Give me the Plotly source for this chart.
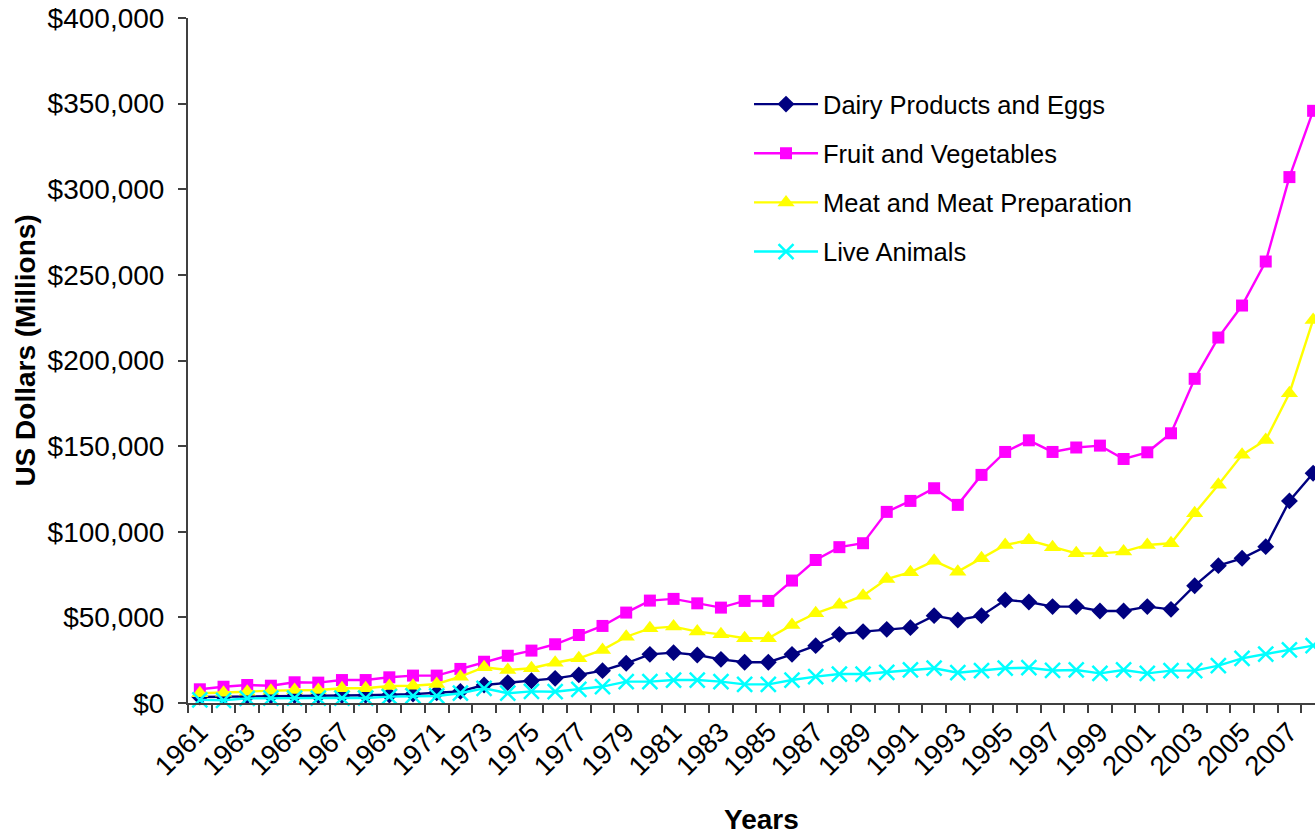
import plotly.graph_objects as go

years = [1961, 1962, 1963, 1964, 1965, 1966, 1967, 1968, 1969, 1970,
         1971, 1972, 1973, 1974, 1975, 1976, 1977, 1978, 1979, 1980,
         1981, 1982, 1983, 1984, 1985, 1986, 1987, 1988, 1989, 1990,
         1991, 1992, 1993, 1994, 1995, 1996, 1997, 1998, 1999, 2000,
         2001, 2002, 2003, 2004, 2005, 2006, 2007, 2008]

dairy = [3500, 3700, 4000, 4200, 4300, 4300, 4400, 4500, 4700, 5200,
         6000, 6800, 10500, 11900, 13000, 14400, 16400, 18900, 23200, 28400,
         29400, 28000, 25500, 23800, 23800, 28400, 33500, 40100, 41700, 43000,
         44000, 51000, 48500, 51000, 60200, 59000, 56300, 56300, 53700, 53700,
         56300, 54700, 68500, 80200, 84500, 91300, 118000, 134200]

fruit = [8000, 9500, 10500, 10100, 12100, 11900, 13400, 13400, 15000, 16000,
         16000, 19900, 24100, 27600, 30600, 34300, 39700, 45000, 52800, 59800,
         60800, 58200, 55700, 59600, 59600, 71500, 83500, 91000, 93300, 111600,
         118000, 125400, 115700, 133200, 146600, 153400, 146600, 149200, 150300, 142500,
         146400, 157500, 189300, 213400, 232100, 257800, 307100, 345800]

meat = [5700, 6000, 6600, 7200, 7600, 7600, 8600, 8600, 9900, 10100,
        11100, 15400, 20900, 19300, 20300, 23500, 26100, 31000, 38700, 43600,
        44600, 41700, 40100, 37800, 37800, 45600, 52400, 57300, 62700, 72400,
        76400, 83000, 76700, 84500, 92300, 95000, 91000, 87400, 87400, 88400,
        92300, 93300, 110800, 127400, 144900, 153600, 180900, 223700]

live = [1800, 1600, 2700, 2900, 2900, 2900, 2900, 2900, 3700, 4100,
        4100, 5700, 8600, 5700, 6800, 6600, 8000, 9600, 12500, 12500,
        13400, 13400, 12500, 10900, 10900, 13400, 15400, 16900, 16900, 17900,
        19300, 20300, 17700, 18900, 20300, 20600, 19000, 19300, 17300, 19300,
        17300, 18900, 18900, 21800, 26100, 28600, 31000, 33500]

series_names = ["Dairy Products and Eggs", "Fruit and Vegetables",
                "Meat and Meat Preparation", "Live Animals"]
colors = ["#000080", "#FF00FF", "#FFFF00", "#00FFFF"]
symbols = ["diamond", "square", "triangle-up", "x-thin"]
sizes = [13, 12, 15, 15]

tick_years = [1961, 1963, 1965, 1967, 1969, 1971, 1973, 1975, 1977, 1979,
              1981, 1983, 1985, 1987, 1989, 1991, 1993, 1995, 1997, 1999,
              2001, 2003, 2005, 2007]
y_ticks = [0, 50000, 100000, 150000, 200000, 250000, 300000, 350000, 400000]
y_tick_labels = ["$0", "$50,000", "$100,000", "$150,000", "$200,000",
                 "$250,000", "$300,000", "$350,000", "$400,000"]

FONT = "Liberation Sans, Arial, sans-serif"

fig = go.Figure()
for name, vals, col, sym, sz in zip(series_names, [dairy, fruit, meat, live],
                                    colors, symbols, sizes):
    marker = dict(symbol=sym, size=sz, color=col)
    if sym == "x-thin":
        marker["line"] = dict(color=col, width=2.5)
    else:
        marker["line"] = dict(color=col, width=0)
    fig.add_trace(go.Scatter(
        x=years, y=vals, name=name, mode="lines+markers",
        line=dict(color=col, width=2.4), marker=marker,
        legendgroup=name, cliponaxis=False,
    ))

boundaries = [y - 0.5 for y in years] + [years[-1] + 0.5]

fig.update_layout(
    width=1315, height=834,
    margin=dict(l=188, r=0, t=18, b=131),
    paper_bgcolor="white", plot_bgcolor="white",
    font=dict(family=FONT, color="black"),
    showlegend=True,
    legend=dict(
        x=0.4978, xanchor="left", y=0.908, yanchor="top",
        font=dict(size=25.5, family=FONT), bgcolor="rgba(0,0,0,0)",
        traceorder="grouped", tracegroupgap=13, itemwidth=64,
    ),
    xaxis=dict(
        range=[1960.5, 2008.08], showgrid=False, zeroline=False,
        showline=True, linecolor="#404040", linewidth=2,
        tickmode="array", tickvals=tick_years, ticks="",
        tickangle=-45, tickfont=dict(size=27.5, family=FONT),
        tickformat="d",
        minor=dict(tickmode="array", tickvals=boundaries, ticks="outside",
                   ticklen=8, tickwidth=1.5, tickcolor="#404040"),
    ),
    yaxis=dict(
        range=[0, 400000], showgrid=False, zeroline=False,
        showline=True, linecolor="#404040", linewidth=2,
        tickmode="array", tickvals=y_ticks, ticktext=y_tick_labels,
        ticks="outside", ticklen=8, tickwidth=1.5, tickcolor="#404040",
        tickfont=dict(size=28, family=FONT), ticklabelstandoff=8,
    ),
    annotations=[
        dict(text="<b>Years</b>", xref="paper", yref="paper",
             x=0.509, y=-0.1695, xanchor="center", yanchor="middle",
             showarrow=False, font=dict(size=28, family=FONT)),
        dict(text="<b>US Dollars (Millions)</b>", xref="paper", yref="paper",
             x=-0.144, y=0.514, xanchor="center", yanchor="middle",
             textangle=-90, showarrow=False, font=dict(size=28, family=FONT)),
    ],
)

fig.write_html("out.html")
